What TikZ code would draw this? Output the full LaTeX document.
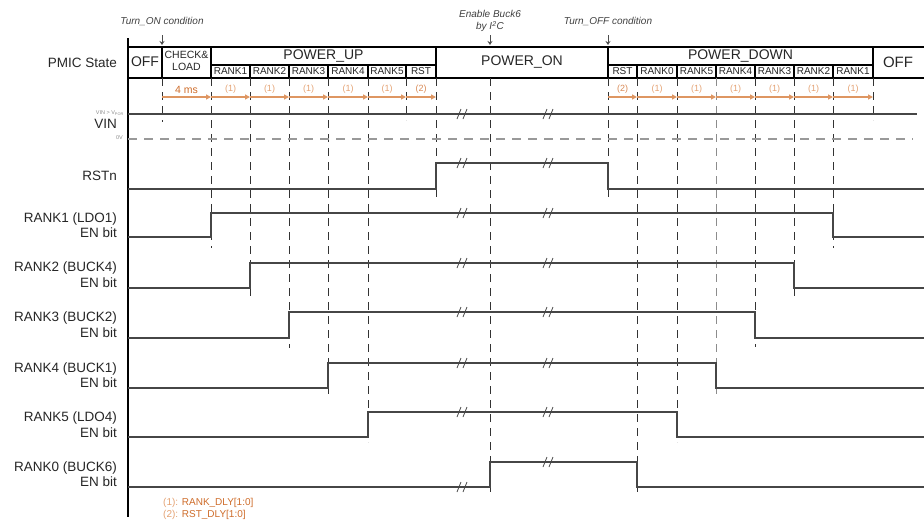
\documentclass[tikz,border=0pt]{standalone}
\usepackage{fontspec}
\setmainfont{Liberation Sans}
\usetikzlibrary{arrows.meta}
\definecolor{dlyline}{RGB}{222,150,98}
\definecolor{dlynum}{RGB}{228,162,115}
\definecolor{dlytext}{RGB}{206,108,42}
\definecolor{sigline}{RGB}{70,70,70}
\begin{document}
\begin{tikzpicture}[x=1pt, y=-1pt,
    sig/.style={sigline, line width=1.2pt},
    tbl/.style={black, line width=1.3pt},
    guide/.style={black!80, line width=1pt, dash pattern=on 8pt off 6pt},
    zero/.style={black!40, line width=1.2pt, dash pattern=on 9pt off 7pt},
    dly/.style={dlyline, line width=1.3pt, -{Triangle[length=5pt,width=5pt]}},
    hint/.style={black!70, line width=0.6pt, -{Stealth[length=4pt,width=5pt]}},
    lbl/.style={anchor=base east, inner sep=0pt, text=black!85, font=\fontsize{13.5}{15}\selectfont},
    state/.style={inner sep=0pt, text=black!85, font=\fontsize{14}{16}\selectfont},
    cell/.style={inner sep=0pt, text=black!85, font=\fontsize{10}{11}\selectfont},
    cond/.style={inner sep=0pt, text=black!75, font=\fontsize{10}{12.5}\selectfont\itshape},
    num/.style={midway, above=3pt, inner sep=0pt, text=dlynum, font=\fontsize{9}{10}\selectfont},
    tiny/.style={anchor=east, inner sep=0pt, text=black!45, font=\fontsize{5.5}{6}\selectfont},
    gap/.pic={\draw[sigline, line width=0.8pt] (-5,5) -- (-1,-5) (1,5) -- (5,-5);}
  ]
  \useasboundingbox (0,0) rectangle (924,523);

  % conditions on top
  \node[cond] (turnon) at (162,21) {Turn\_ON condition};
  \node[cond, align=center] (buck6) at (490,21) {Enable Buck6\\by I\textsuperscript{2}C};
  \node[cond] (turnoff) at (608,21) {Turn\_OFF condition};
  \coordinate (onT) at (162,35);   \coordinate (onB) at (162,45);
  \coordinate (b6T) at (490,35);   \coordinate (b6B) at (490,45);
  \coordinate (offT) at (608,35);  \coordinate (offB) at (608,45);
  \draw[hint] (onT) -- (onB);
  \draw[hint] (b6T) -- (b6B);
  \draw[hint] (offT) -- (offB);

  % state table
  \draw[tbl] (128,38) -- (128,517);
  \draw[tbl] (128,47) -- (924,47);
  \draw[tbl] (128,78) -- (924,78);
  \draw[tbl] (162,47) -- (162,78);
  \draw[tbl] (211,47) -- (211,78);
  \draw[tbl] (436,47) -- (436,78);
  \draw[tbl] (608,47) -- (608,78);
  \draw[tbl] (873,47) -- (873,78);
  \draw[tbl] (211,65) -- (436,65);
  \draw[tbl] (608,65) -- (873,65);
  \draw[tbl] (250,65) -- (250,78);
  \draw[tbl] (289,65) -- (289,78);
  \draw[tbl] (328,65) -- (328,78);
  \draw[tbl] (368,65) -- (368,78);
  \draw[tbl] (406,65) -- (406,78);
  \draw[tbl] (637,65) -- (637,78);
  \draw[tbl] (677,65) -- (677,78);
  \draw[tbl] (716,65) -- (716,78);
  \draw[tbl] (755,65) -- (755,78);
  \draw[tbl] (794,65) -- (794,78);
  \draw[tbl] (833,65) -- (833,78);

  \node[lbl] (pmic) at (117,67) {PMIC State};
  \node[state] (off1) at (145,62) {OFF};
  \node[cell, align=center, font=\fontsize{10.5}{12.5}\selectfont] (check) at (186.5,61) {CHECK\&\\LOAD};
  \node[state] (pup) at (323.5,56) {POWER\_UP};
  \node[state] (pon) at (522,62) {POWER\_ON};
  \node[state] (pdown) at (740.5,56) {POWER\_DOWN};
  \node[state, font=\fontsize{15}{17}\selectfont] (off2) at (898,62) {OFF};

  \node[cell] (ur1) at (230.5,71.5) {RANK1};
  \node[cell] (ur2) at (269.5,71.5) {RANK2};
  \node[cell] (ur3) at (308.5,71.5) {RANK3};
  \node[cell] (ur4) at (348,71.5) {RANK4};
  \node[cell] (ur5) at (387,71.5) {RANK5};
  \node[cell] (urst) at (421,71.5) {RST};
  \node[cell] (drst) at (622.5,71.5) {RST};
  \node[cell] (dr0) at (657,71.5) {RANK0};
  \node[cell] (dr5) at (696.5,71.5) {RANK5};
  \node[cell] (dr4) at (735.5,71.5) {RANK4};
  \node[cell] (dr3) at (774.5,71.5) {RANK3};
  \node[cell] (dr2) at (813.5,71.5) {RANK2};
  \node[cell] (dr1) at (853,71.5) {RANK1};

  % guides
  \draw[guide] (162,78) -- (162,122);
  \draw[guide] (211,78) -- (211,248);
  \draw[guide] (250,78) -- (250,298);
  \draw[guide] (289,78) -- (289,348);
  \draw[guide] (328,78) -- (328,397);
  \draw[guide] (368,78) -- (368,442);
  \draw[guide] (406,78) -- (406,120);
  \draw[guide] (436,78) -- (436,197);
  \draw[guide] (490,78) -- (490,497);
  \draw[guide] (608,78) -- (608,197);
  \draw[guide] (637,78) -- (637,495);
  \draw[guide] (677,78) -- (677,442);
  \draw[guide, black!45] (716,78) -- (716,397);
  \draw[guide] (755,78) -- (755,347);
  \draw[guide] (794,78) -- (794,297);
  \draw[guide] (833,78) -- (833,248);
  \draw[guide] (873,78) -- (873,120);

  % delays
  \coordinate (u0) at (162,97);
  \coordinate (u1) at (211,97);
  \coordinate (u2) at (250,97);
  \coordinate (u3) at (289,97);
  \coordinate (u4) at (328,97);
  \coordinate (u5) at (368,97);
  \coordinate (u6) at (406,97);
  \coordinate (u7) at (436,97);
  \coordinate (d0) at (608,97);
  \coordinate (d1) at (637,97);
  \coordinate (d2) at (677,97);
  \coordinate (d3) at (716,97);
  \coordinate (d4) at (755,97);
  \coordinate (d5) at (794,97);
  \coordinate (d6) at (833,97);
  \coordinate (d7) at (873,97);

  \draw[dly] (u0) -- (u1) node[num, text=dlytext, font=\fontsize{10.5}{11}\selectfont] {4 ms};
  \draw[dly] (u1) -- (u2) node[num] {(1)};
  \draw[dly] (u2) -- (u3) node[num] {(1)};
  \draw[dly] (u3) -- (u4) node[num] {(1)};
  \draw[dly] (u4) -- (u5) node[num] {(1)};
  \draw[dly] (u5) -- (u6) node[num] {(1)};
  \draw[dly] (u6) -- (u7) node[num, text=dlytext!80] {(2)};
  \draw[dly] (d0) -- (d1) node[num, text=dlytext!80] {(2)};
  \draw[dly] (d1) -- (d2) node[num] {(1)};
  \draw[dly] (d2) -- (d3) node[num] {(1)};
  \draw[dly] (d3) -- (d4) node[num] {(1)};
  \draw[dly] (d4) -- (d5) node[num] {(1)};
  \draw[dly] (d5) -- (d6) node[num] {(1)};
  \draw[dly] (d6) -- (d7) node[num] {(1)};

  % VIN
  \node[lbl] (vin) at (117,128) {VIN};
  \node[tiny] (vpor) at (124,113) {VIN > V\textsubscript{POR}};
  \node[tiny] (zerov) at (123,138) {0V};
  \draw[sig] (128,114) -- (917,114);
  \draw[zero] (128,139) -- (913,139);
  \pic at (462,114) {gap};
  \pic at (548,114) {gap};

  % RSTn
  \node[lbl] (rstn) at (117,180) {RSTn};
  \draw[sig] (128,189) -- (436,189) -- (436,163) -- (608,163) -- (608,189) -- (924,189);
  \pic at (462,163) {gap};
  \pic at (548,163) {gap};

  % rank enables
  \node[lbl] (r1a) at (117,222) {RANK1 (LDO1)};
  \node[lbl] (r1b) at (117,237) {EN bit};
  \draw[sig] (128,237) -- (211,237) -- (211,213) -- (833,213) -- (833,237) -- (924,237);
  \pic at (462,213) {gap};
  \pic at (548,213) {gap};

  \node[lbl] (r2a) at (117,271) {RANK2 (BUCK4)};
  \node[lbl] (r2b) at (117,287) {EN bit};
  \draw[sig] (128,288) -- (250,288) -- (250,263) -- (794,263) -- (794,288) -- (924,288);
  \pic at (462,263) {gap};
  \pic at (548,263) {gap};

  \node[lbl] (r3a) at (117,321) {RANK3 (BUCK2)};
  \node[lbl] (r3b) at (117,337) {EN bit};
  \draw[sig] (128,338) -- (289,338) -- (289,312) -- (755,312) -- (755,338) -- (924,338);
  \pic at (462,312) {gap};
  \pic at (548,312) {gap};

  \node[lbl] (r4a) at (117,372) {RANK4 (BUCK1)};
  \node[lbl] (r4b) at (117,387) {EN bit};
  \draw[sig] (128,388) -- (328,388) -- (328,363) -- (716,363) -- (716,388) -- (924,388);
  \pic at (462,363) {gap};
  \pic at (548,363) {gap};

  \node[lbl] (r5a) at (117,421) {RANK5 (LDO4)};
  \node[lbl] (r5b) at (117,437) {EN bit};
  \draw[sig] (128,437) -- (368,437) -- (368,412) -- (677,412) -- (677,437) -- (924,437);
  \pic at (462,412) {gap};
  \pic at (548,412) {gap};

  \node[lbl] (r0a) at (117,471) {RANK0 (BUCK6)};
  \node[lbl] (r0b) at (117,486) {EN bit};
  \draw[sig] (128,487) -- (490,487) -- (490,462) -- (637,462) -- (637,487) -- (924,487);
  \pic at (462,487) {gap};
  \pic at (548,462) {gap};

  % legend
  \node[anchor=west, inner sep=0pt, text=dlytext, font=\fontsize{10}{11}\selectfont] (leg1) at (163,503) {\textcolor{dlynum}{(1):} RANK\_DLY[1:0]};
  \node[anchor=west, inner sep=0pt, text=dlytext, font=\fontsize{10}{11}\selectfont] (leg2) at (163,515) {\textcolor{dlynum}{(2):} RST\_DLY[1:0]};
\end{tikzpicture}
\end{document}
